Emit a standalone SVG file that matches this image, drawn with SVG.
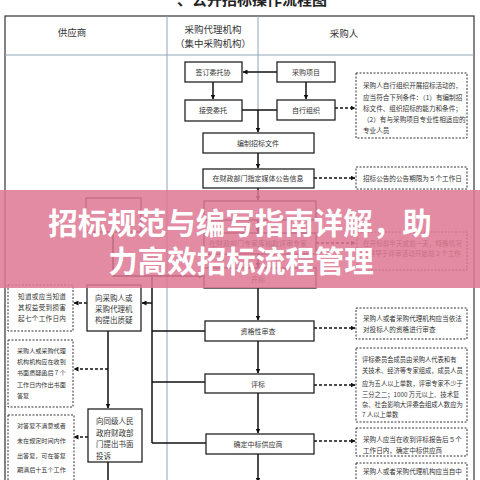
<svg xmlns="http://www.w3.org/2000/svg" width="480" height="480" viewBox="0 0 480 480">
<style>
text{font-family:'Noto Sans CJK SC','Noto Sans',sans-serif;fill:#333}
.hd{font-size:9.5px;text-anchor:middle}
.bx{fill:#fff;stroke:#222;stroke-width:1.3}
.bt{font-size:7px;text-anchor:middle;dominant-baseline:central}
.nt{fill:#fff;stroke:#333;stroke-width:1;stroke-dasharray:2 1.5}
.ns{font-size:6.6px;dominant-baseline:central}
.ln{stroke:#111;stroke-width:1.5;fill:none}
.ar{stroke:#111;stroke-width:1.5;fill:none;marker-end:url(#ah)}
.da{stroke:#111;stroke-width:1.3;fill:none;stroke-dasharray:3 2;marker-end:url(#ah)}
.dv{stroke:#8fa6b5;stroke-width:1;fill:none}
.ov{font-size:29.5px;font-weight:700;fill:#fff;text-anchor:middle}
</style>
<defs>
<marker id="ah" viewBox="0 0 10 10" refX="9" refY="5" markerWidth="5" markerHeight="5" orient="auto" markerUnits="userSpaceOnUse">
<path d="M0,0 L10,5 L0,10 z" fill="#111"/>
</marker>
</defs>
<rect width="480" height="480" fill="#fff"/>
<text x="252" y="5" style="font-size:15px;font-weight:700;text-anchor:middle;fill:#222">、公开招标操作流程图</text>
<g id="table">
<rect x="5" y="16" width="469" height="480" fill="none" stroke="#333" stroke-width="1.2"/>
<line class="dv" x1="5" y1="55" x2="474" y2="55"/>
<line class="dv" x1="167" y1="16" x2="167" y2="480"/>
<line class="dv" x1="258" y1="16" x2="258" y2="110"/>
<text class="hd" x="72" y="36">供应商</text>
<text class="hd" x="213" y="33">采购代理机构</text>
<text class="hd" x="213" y="47">（集中采购机构）</text>
<text class="hd" x="344" y="37">采购人</text>
</g>
<g id="connectors">
<line class="ar" x1="277" y1="72" x2="243" y2="72"/>
<line class="ar" x1="213" y1="82" x2="213" y2="99"/>
<line class="ar" x1="306" y1="82" x2="306" y2="99"/>
<line class="ln" x1="242" y1="110" x2="277" y2="110"/>
<line class="ar" x1="258" y1="110" x2="258" y2="132"/>
<line class="ar" x1="258" y1="153" x2="258" y2="168"/>
<line class="ar" x1="258" y1="188" x2="258" y2="200"/>
<line class="ar" x1="258" y1="220" x2="258" y2="232"/>
<line class="ar" x1="258" y1="254" x2="258" y2="267"/>
<line class="ar" x1="258" y1="288" x2="258" y2="320"/>
<line class="ar" x1="258" y1="341" x2="258" y2="373"/>
<line class="ar" x1="258" y1="393" x2="258" y2="433"/>
<line class="ar" x1="258" y1="454" x2="258" y2="482"/>
<line class="da" x1="335" y1="108" x2="355" y2="108"/>
<line class="da" x1="314" y1="178" x2="355" y2="178"/>
<line class="da" x1="316" y1="243" x2="355" y2="243"/>
<line class="da" x1="314" y1="328" x2="355" y2="328"/>
<line class="da" x1="314" y1="385" x2="355" y2="385"/>
<line class="da" x1="314" y1="441" x2="355" y2="441"/>
<polyline class="ar" points="113,232 113,276 203,276"/>
<line class="ln" x1="152" y1="276" x2="152" y2="443"/>
<line class="ln" x1="152" y1="331" x2="205" y2="331"/>
<line class="ln" x1="152" y1="382" x2="205" y2="382"/>
<line class="ln" x1="152" y1="443" x2="206" y2="443"/>
<line class="ar" x1="152" y1="303" x2="142" y2="303"/>
<line class="da" x1="87" y1="303" x2="74" y2="303"/>
<line class="ar" x1="108" y1="331" x2="108" y2="408"/>
<line class="da" x1="108" y1="369" x2="74" y2="369"/>
<line class="da" x1="88" y1="437" x2="74" y2="437"/>
<line class="ln" x1="108" y1="462" x2="108" y2="482"/>
</g>
<g id="n-qdwt"><rect class="bx" x="185" y="62" width="57" height="20"/><text class="bt" x="213" y="72">签订委托协</text></g>
<g id="n-cgxm"><rect class="bx" x="277" y="62" width="58" height="20"/><text class="bt" x="306" y="72">采购项目</text></g>
<g id="n-jswt"><rect class="bx" x="185" y="100" width="57" height="21"/><text class="bt" x="213" y="110">接受委托</text></g>
<g id="n-zxzz"><rect class="bx" x="277" y="100" width="58" height="20"/><text class="bt" x="306" y="110">自行组织</text></g>
<g id="n-bzzb"><rect class="bx" x="203" y="133" width="111" height="20"/><text class="bt" x="258" y="143">编制招标文件</text></g>
<g id="n-ggxx"><rect class="bx" x="203" y="169" width="111" height="19"/><text class="bt" x="258" y="178">在财政部门指定媒体公告信息</text></g>
<g id="n-a"><rect class="bx" x="204" y="201" width="112" height="19"/></g>
<g id="n-zj"><rect class="bx" x="204" y="233" width="112" height="21"/><text class="bt" x="258" y="243">在财政部门专家库抽取评审专家</text></g>
<g id="n-kb"><rect class="bx" x="204" y="268" width="112" height="20"/><text class="bt" x="258" y="279">开标</text></g>
<g id="n-zgsc"><rect class="bx" x="205" y="321" width="109" height="20"/><text class="bt" x="258" y="331">资格性审查</text></g>
<g id="n-pb"><rect class="bx" x="205" y="374" width="109" height="19"/><text class="bt" x="258" y="384">评标</text></g>
<g id="n-qdzb"><rect class="bx" x="206" y="434" width="108" height="20"/><text class="bt" x="258" y="444">确定中标供应商</text></g>
<g id="n-gys"><rect class="bx" x="86" y="198" width="55" height="34"/></g>
<g id="n-zy"><rect class="bx" x="87" y="285" width="54" height="46"/>
<text class="bt" x="95" y="297" style="text-anchor:start;font-size:7.5px">向采购人或</text>
<text class="bt" x="95" y="308" style="text-anchor:start;font-size:7.5px">采购代理机</text>
<text class="bt" x="95" y="319" style="text-anchor:start;font-size:7.5px">构提出质疑</text></g>
<g id="n-ts"><rect class="bx" x="88" y="409" width="54" height="53"/>
<text class="bt" x="96" y="420" style="text-anchor:start;font-size:7.5px">向同级人民</text>
<text class="bt" x="96" y="432" style="text-anchor:start;font-size:7.5px">政府财政部</text>
<text class="bt" x="96" y="443" style="text-anchor:start;font-size:7.5px">门提出书面</text>
<text class="bt" x="96" y="455" style="text-anchor:start;font-size:7.5px">投诉</text></g>
<g id="note1"><rect class="nt" x="356" y="73" width="111" height="65"/>
<text class="ns" x="363" y="85">采购人自行组织开展招标活动的，</text>
<text class="ns" x="363" y="97">应当符合下列条件：（1）有编制招</text>
<text class="ns" x="363" y="108">标文件、组织招标的能力和条件；</text>
<text class="ns" x="363" y="119">（2）有与采购项目专业性相适应的</text>
<text class="ns" x="363" y="130">专业人员</text></g>
<g id="note2"><rect class="nt" x="356" y="167" width="111" height="22"/>
<text class="ns" x="363" y="178">招标公告的公告期限为５个工作日</text></g>
<g id="note-kb"><rect class="nt" x="357" y="232" width="110" height="38"/>
<text class="ns" x="363" y="243">在开标前半天或前一天，特殊情况</text>
<text class="ns" x="362" y="253">不得早于评审活动开始前２个工作</text></g>
<g id="note3"><rect class="nt" x="356" y="308" width="111" height="31"/>
<text class="ns" x="363" y="318">采购人或者采购代理机构应当依法</text>
<text class="ns" x="363" y="329">对投标人的资格进行审查</text></g>
<g id="note4"><rect class="nt" x="356" y="348" width="111" height="74"/>
<text class="ns" x="362" y="359" style="font-size:6.3px">评标委员会成员由采购人代表和有</text>
<text class="ns" x="362" y="370" style="font-size:6.3px">关技术、经济等专家组成，成员人员</text>
<text class="ns" x="362" y="383" style="font-size:6.3px">应为五人以上单数，评审专家不少于</text>
<text class="ns" x="362" y="394" style="font-size:6.3px">三分之二；1000 万元以上、技术复</text>
<text class="ns" x="362" y="404" style="font-size:6.3px">杂、社会影响大评委会组成人数应为</text>
<text class="ns" x="362" y="414" style="font-size:6.3px">7 人以上单数</text></g>
<g id="note5"><rect class="nt" x="356" y="428" width="111" height="28"/>
<text class="ns" x="363" y="439">采购人应当在收到评标报告后５个</text>
<text class="ns" x="363" y="450">工作日内，确定中标供应商</text></g>
<g id="note6"><rect class="nt" x="356" y="463" width="111" height="30"/>
<text class="ns" x="363" y="471">采购人或者采购代理机构应当自中</text></g>
<g id="noteL1"><rect class="nt" x="8" y="285" width="65" height="46"/>
<text class="ns" x="18" y="296" style="letter-spacing:0.3px">知道或应当知道</text>
<text class="ns" x="18" y="307" style="letter-spacing:0.3px">其权益受到损害</text>
<text class="ns" x="18" y="318" style="letter-spacing:0.3px">起七个工作日内</text></g>
<g id="noteL2"><rect class="nt" x="8" y="340" width="65" height="67"/>
<text class="ns" x="17" y="350" style="font-size:6.1px">采购人或采购代理</text>
<text class="ns" x="17" y="361" style="font-size:6.1px">机构机构应在收到</text>
<text class="ns" x="17" y="372" style="font-size:6.1px">书面质疑函后７个</text>
<text class="ns" x="17" y="384" style="font-size:6.1px">工作日内作出书面</text>
<text class="ns" x="17" y="395" style="font-size:6.1px">答复</text></g>
<g id="noteL3"><rect class="nt" x="8" y="415" width="66" height="75"/>
<text class="ns" x="17" y="425" style="font-size:6.1px">对答复不满意或者</text>
<text class="ns" x="17" y="440" style="font-size:6.1px">未在规定时间内作</text>
<text class="ns" x="17" y="455" style="font-size:6.1px">出答复，可在答复</text>
<text class="ns" x="17" y="469" style="font-size:6.1px">期满后十五个工作</text></g>
<g id="overlay">
<rect x="0" y="190" width="480" height="98" fill="#dd7893" fill-opacity="0.86"/>
<text class="ov" x="240" y="234">招标规范与编写指南详解，助</text>
<text class="ov" x="241" y="272">力高效招标流程管理</text>
</g>
</svg>
